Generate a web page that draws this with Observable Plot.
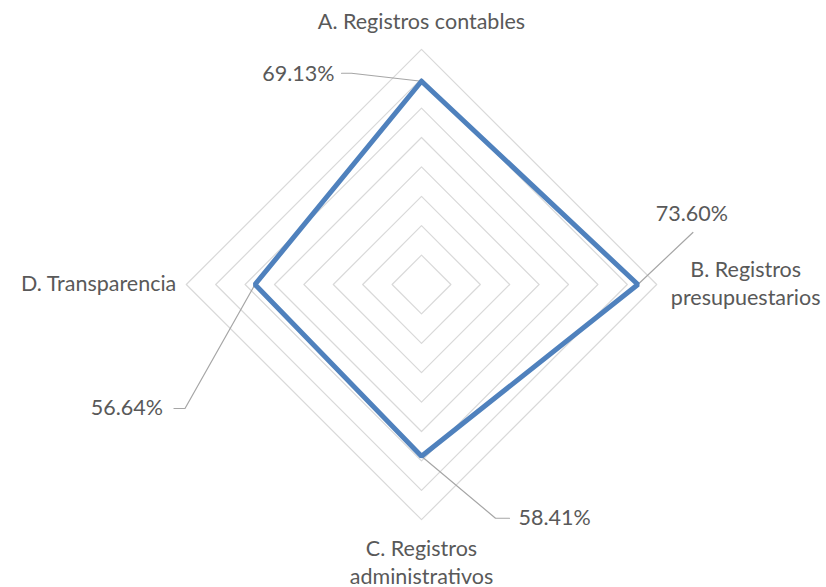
<!DOCTYPE html>
<html>
<head>
<meta charset="utf-8">
<script src="https://cdn.jsdelivr.net/npm/d3@7"></script>
<script src="https://cdn.jsdelivr.net/npm/@observablehq/plot@0.6"></script>
<style>
  html, body { margin: 0; padding: 0; background: #fff; }
  #chart { width: 826px; height: 587px; }
</style>
</head>
<body>
<div id="chart"></div>
<script>
// ---- data ----
const categories = ["A. Registros contables", "B. Registros presupuestarios", "C. Registros administrativos", "D. Transparencia"];
const values = [0.6913, 0.7360, 0.5841, 0.5664];
const valueLabels = ["69.13%", "73.60%", "58.41%", "56.64%"];
const ringTicks = [0.1, 0.2, 0.3, 0.4, 0.5, 0.6, 0.7, 0.8];

// ---- layout (pixels) ----
const W = 826, H = 587, CX = 421, CY = 284, PX = 294; // pixels per unit (100%)
const angles = [90, 0, -90, 180]; // degrees: A top, B right, C bottom, D left
const toXY = (r, i) => [r * Math.cos(angles[i] * Math.PI / 180), r * Math.sin(angles[i] * Math.PI / 180)];
const px = (dx, dy) => [dx / PX, -dy / PX]; // pixel offset -> data offset

// category label placement (pixel offsets from the outer ring vertex, radius 0.8)
const catLayout = [
  {dx: 0, dy: -27, anchor: "middle", lines: ["A. Registros contables"]},
  {dx: 89, dy: 0, anchor: "middle", lines: ["B. Registros", "presupuestarios"]},
  {dx: 0, dy: 43, anchor: "middle", lines: ["C. Registros", "administrativos"]},
  {dx: -10, dy: 0, anchor: "end", lines: ["D. Transparencia"]}
];
// value label leader lines: pixel offsets from the data point
const leaderLayout = [
  {path: [[0, 0], [-70, -8], [-80, -8]], text: [-87, -7], anchor: "end"},
  {path: [[0, 0], [55, -52]], text: [54, -70], anchor: "middle"},
  {path: [[0, 0], [74, 62], [88, 62]], text: [97, 62], anchor: "start"},
  {path: [[0, 0], [-70, 124], [-81, 124]], text: [-92, 124], anchor: "end"}
];

// rings
const ringPts = [];
ringTicks.forEach(t => {
  for (let i = 0; i <= 4; i++) {
    const [x, y] = toXY(t, i % 4);
    ringPts.push({ring: t, x, y});
  }
});
// data polygon
const poly = [];
for (let i = 0; i <= 4; i++) {
  const [x, y] = toXY(values[i % 4], i % 4);
  poly.push({x, y});
}
// leaders
const leaderPts = [];
const valueText = [];
values.forEach((v, i) => {
  const [x0, y0] = toXY(v, i);
  leaderLayout[i].path.forEach(([dx, dy]) => {
    const [ox, oy] = px(dx, dy);
    leaderPts.push({k: i, x: x0 + ox, y: y0 + oy});
  });
  const [tx, ty] = px(...leaderLayout[i].text);
  valueText.push({x: x0 + tx, y: y0 + ty, label: valueLabels[i], anchor: leaderLayout[i].anchor});
});
// category text
const catText = [];
categories.forEach((c, i) => {
  const [x0, y0] = toXY(ringTicks[ringTicks.length - 1], i);
  const L = catLayout[i];
  const n = L.lines.length;
  L.lines.forEach((ln, j) => {
    const [ox, oy] = px(L.dx, L.dy + (j - (n - 1) / 2) * 28);
    catText.push({x: x0 + ox, y: y0 + oy, label: ln, anchor: L.anchor});
  });
});

const font = "Lato, 'Open Sans', sans-serif";
const textMark = (data) => ["start", "middle", "end"].map(a =>
  Plot.text(data.filter(d => d.anchor === a), {
    x: "x", y: "y", text: "label", textAnchor: a,
    fill: "#595959", fontSize: 21.5, fontFamily: font
  }));

const chart = Plot.plot({
  width: W, height: H,
  margin: 0,
  x: {domain: [-CX / PX, (W - CX) / PX], range: [0, W], axis: null},
  y: {domain: [-(H - CY) / PX, CY / PX], range: [H, 0], axis: null},
  style: {background: "#fff", fontFamily: font},
  marks: [
    Plot.line(ringPts, {x: "x", y: "y", z: "ring", stroke: "#d9d9d9", strokeWidth: 1.2}),
    Plot.line(leaderPts, {x: "x", y: "y", z: "k", stroke: "#a6a6a6", strokeWidth: 1.2}),
    Plot.line(poly, {x: "x", y: "y", stroke: "#4f81bd", strokeWidth: 5, strokeLinejoin: "miter"}),
    ...textMark(valueText),
    ...textMark(catText)
  ]
});
document.getElementById("chart").appendChild(chart);
</script>
</body>
</html>
